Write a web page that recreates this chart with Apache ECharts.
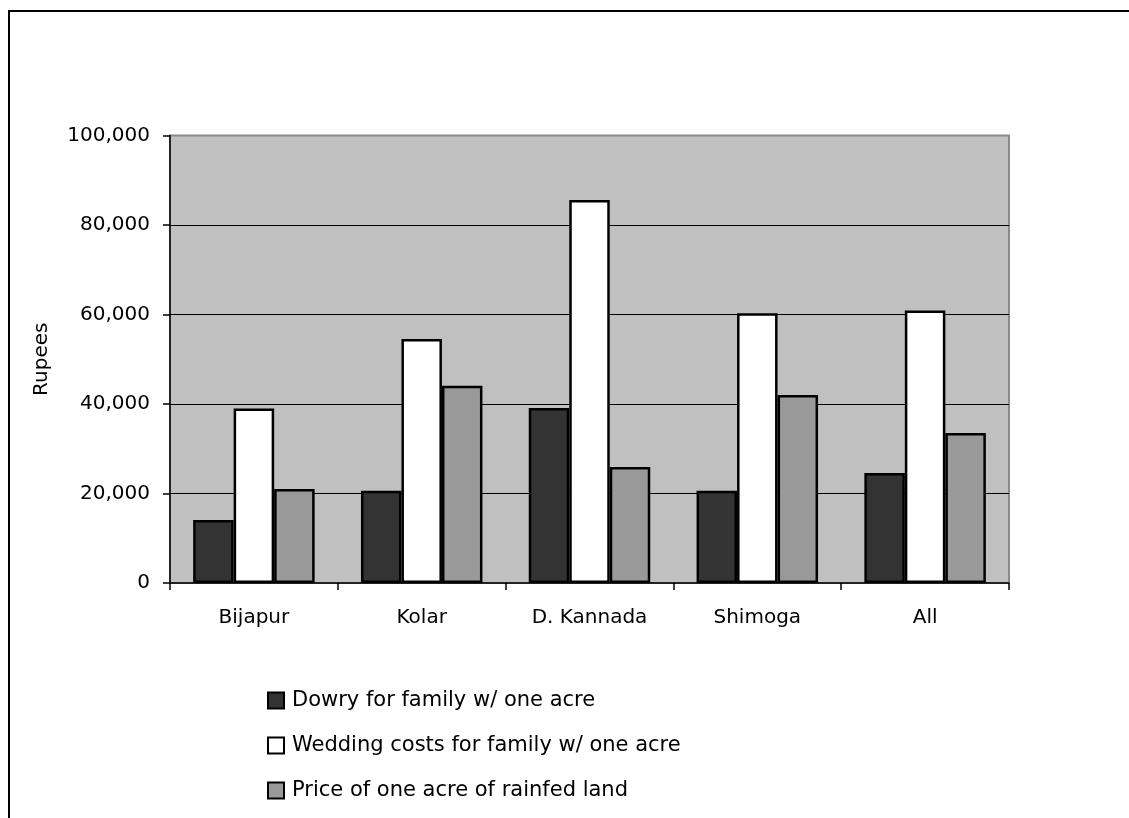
<!DOCTYPE html>
<html>
<head>
<meta charset="utf-8">
<script src="https://cdn.jsdelivr.net/npm/echarts@6/dist/echarts.min.js"></script>
<style>
  html, body { margin: 0; padding: 0; background: #ffffff; }
  #chart { width: 1129px; height: 818px; }
</style>
</head>
<body>
<div id="chart"></div>
<script>
// Districts surveyed
const categories = ['Bijapur', 'Kolar', 'D. Kannada', 'Shimoga', 'All'];

// Values in rupees
const dowry = [14100, 20600, 39100, 20600, 24600];
const weddingCosts = [39000, 54500, 85600, 60300, 60900];
const landPrice = [21000, 44100, 25900, 42000, 33500];

const seriesNames = [
  'Dowry for family w/ one acre',
  'Wedding costs for family w/ one acre',
  'Price of one acre of rainfed land'
];

const FONT = '"DejaVu Sans", Verdana, sans-serif';

const chart = echarts.init(document.getElementById('chart'), null, { renderer: 'canvas' });

function barSeries(name, data, color) {
  return {
    name: name,
    type: 'bar',
    data: data,
    barWidth: 40.5,
    barGap: '0%',
    itemStyle: { color: color, borderColor: '#000000', borderWidth: 2.5 },
    emphasis: { disabled: true },
    animation: false
  };
}

chart.setOption({
  backgroundColor: '#ffffff',
  animation: false,
  grid: {
    left: 170, top: 135.5, right: 120, bottom: 235,
    show: true,
    backgroundColor: '#c0c0c0',
    borderColor: '#8a8a8a',
    borderWidth: 2
  },
  graphic: [{
    type: 'rect',
    shape: { x: 9, y: 11, width: 1300, height: 1000 },
    style: { fill: 'none', stroke: '#000000', lineWidth: 2 },
    z: 100
  }],
  legend: {
    orient: 'vertical',
    left: 267,
    top: 690,
    padding: 0,
    itemWidth: 16,
    itemHeight: 16,
    itemGap: 24,
    icon: 'rect',
    data: seriesNames,
    textStyle: { fontFamily: FONT, fontSize: 21, color: '#000000', lineHeight: 21, padding: [0, 0, 0, 3] },
    itemStyle: { borderColor: '#000000', borderWidth: 2 },
    selectedMode: false
  },
  xAxis: {
    type: 'category',
    data: categories,
    axisLine: { lineStyle: { color: '#000000', width: 1.5 } },
    axisTick: { show: true, length: 7, lineStyle: { color: '#000000', width: 1.5 } },
    axisLabel: { fontFamily: FONT, fontSize: 20, color: '#000000', margin: 25 }
  },
  yAxis: {
    type: 'value',
    min: 0, max: 100000, interval: 20000,
    name: 'Rupees',
    nameLocation: 'middle',
    nameGap: 118,
    nameTextStyle: { fontFamily: FONT, fontSize: 20, color: '#000000' },
    axisLine: { show: true, lineStyle: { color: '#000000', width: 1.5 } },
    axisTick: { show: true, length: 7, lineStyle: { color: '#000000', width: 1.5 } },
    axisLabel: {
      fontFamily: FONT, fontSize: 20, color: '#000000', margin: 20,
      formatter: v => v.toLocaleString('en-US')
    },
    splitLine: { show: true, showMinLine: false, showMaxLine: false, lineStyle: { color: '#000000', width: 1.2 } }
  },
  series: [
    barSeries(seriesNames[0], dowry, '#333333'),
    barSeries(seriesNames[1], weddingCosts, '#ffffff'),
    barSeries(seriesNames[2], landPrice, '#999999')
  ]
});
</script>
</body>
</html>
